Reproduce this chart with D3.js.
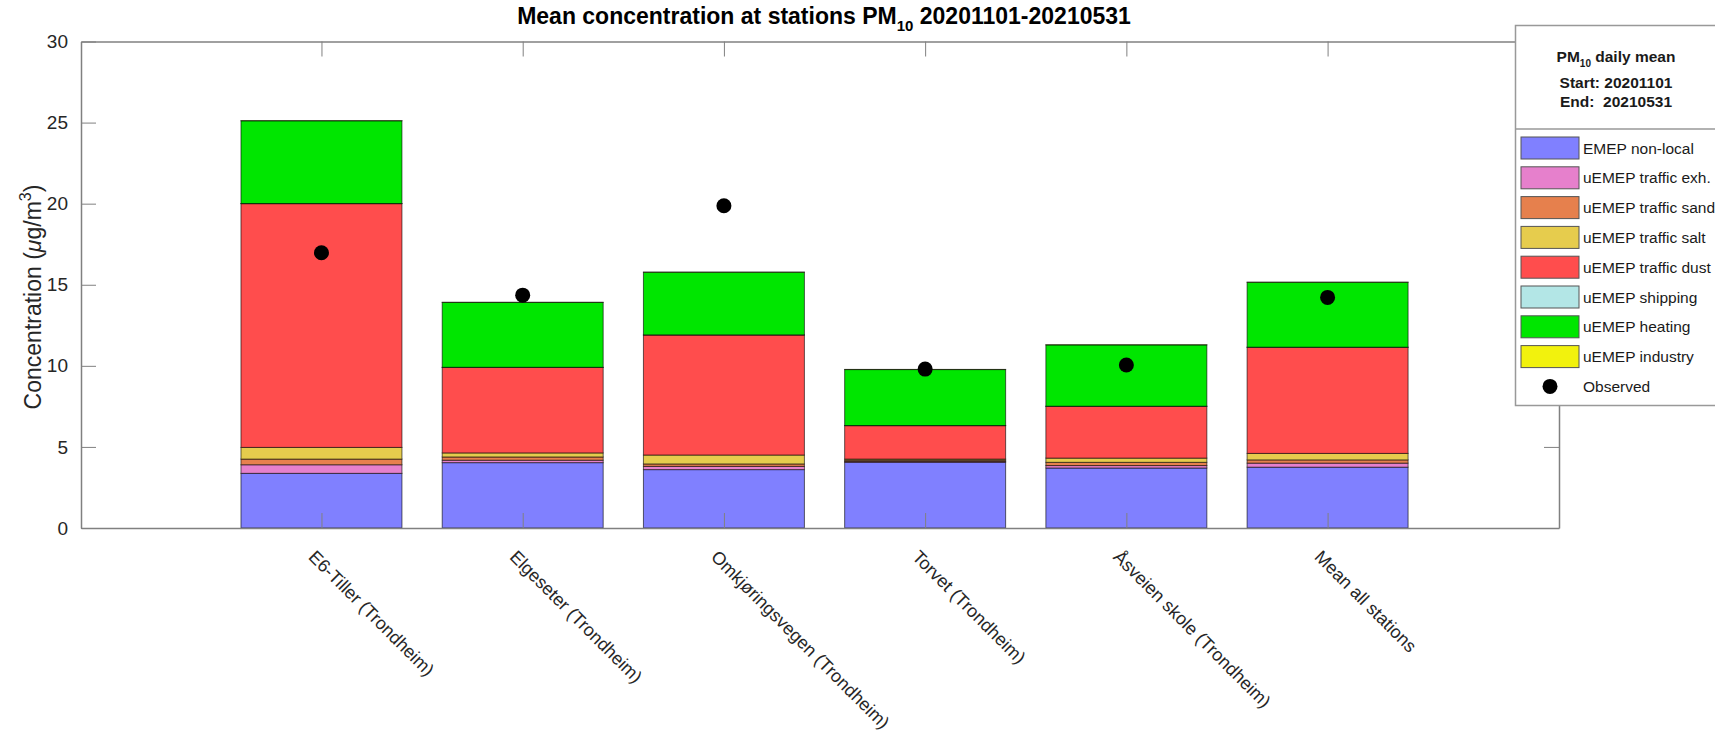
<html>
<script src='https://d3js.org/d3.v7.min.js'></script>
<style>
body {margin: 0; background: #fff;}
text {font-family: "Liberation Sans", Arial, sans-serif;}
.axis path, .axis line {stroke: #808080;}
.axis text {fill: #262626; font-size: 19px;}
.leg text {fill: #1a1a1a; font-size: 15.5px;}
</style>
<body>
<svg width=1715 height=736></svg>
<script>
// station names on the x axis
var stations = ["E6-Tiller (Trondheim)", "Elgeseter (Trondheim)", "Omkjøringsvegen (Trondheim)",
                "Torvet (Trondheim)", "Åsveien skole (Trondheim)", "Mean all stations"];
var sources = ["EMEP non-local", "uEMEP traffic exh.", "uEMEP traffic sand", "uEMEP traffic salt",
               "uEMEP traffic dust", "uEMEP shipping", "uEMEP heating", "uEMEP industry"];
var colors = ["#8080ff", "#e680cc", "#e6804d", "#e6cc4d", "#ff4d4d", "#b3e6e6", "#00e600", "#f2f20d"];

// contributions (ug/m3)
var emepNonLocal = [3.37, 4.03, 3.60, 4.05, 3.70, 3.75];
var trafficExh   = [0.53, 0.15, 0.20, 0.05, 0.15, 0.25];
var trafficSand  = [0.35, 0.20, 0.15, 0.08, 0.20, 0.20];
var trafficSalt  = [0.72, 0.25, 0.55, 0.07, 0.26, 0.40];
var trafficDust  = [15.03, 5.27, 7.40, 2.06, 3.19, 6.54];
var shipping     = [0.01, 0.01, 0.01, 0.01, 0.01, 0.01];
var heating      = [5.10, 4.00, 3.86, 3.45, 3.78, 4.00];
var industry     = [0.01, 0.01, 0.01, 0.01, 0.01, 0.01];
var observed     = [16.97, 14.36, 19.87, 9.80, 10.05, 14.22];
var yTicks = [0, 5, 10, 15, 20, 25, 30];

function draw() {
var series = [emepNonLocal, trafficExh, trafficSand, trafficSalt, trafficDust, shipping, heating, industry];
var rows = stations.map(function(s, i) {
    var r = {idx: i};
    sources.forEach(function(k, j) { r[k] = series[j][i]; });
    return r;
});

var mLeft = 81, mRight = 1559, mTop = 41.5, mBottom = 528;
var svg = d3.select("svg");

var x = d3.scaleLinear().domain([-1.195, 6.15]).range([mLeft, mRight]);
var y = d3.scaleLinear().domain([0, 30]).range([mBottom, mTop]);
var barW = (x(1) - x(0)) * 0.8;

var stacked = d3.stack().keys(sources)(rows);

var layer = svg.append("g").selectAll("g")
    .data(stacked).enter().append("g")
    .attr("fill", function(d, i) { return colors[i]; });

layer.selectAll("rect")
    .data(function(d) { return d; })
    .enter().append("rect")
    .attr("x", function(d) { return x(d.data.idx) - barW / 2; })
    .attr("width", barW)
    .attr("y", function(d) { return y(d[1]); })
    .attr("height", function(d) { return y(d[0]) - y(d[1]); })
    .attr("stroke", "#000")
    .attr("stroke-opacity", 0.6)
    .attr("stroke-width", 1);

// axes (box style, ticks inside)
var tl = 15;
svg.append("g").attr("class", "axis")
    .attr("transform", "translate(" + mLeft + ",0)")
    .call(d3.axisLeft(y).tickValues(yTicks).tickSize(-tl).tickPadding(13).tickSizeOuter(0));
svg.append("g").attr("class", "axis")
    .attr("transform", "translate(" + mRight + ",0)")
    .call(d3.axisRight(y).tickValues(yTicks).tickSize(-tl).tickFormat("").tickSizeOuter(0));
svg.append("g").attr("class", "axis")
    .attr("transform", "translate(0," + mBottom + ")")
    .call(d3.axisBottom(x).tickValues(d3.range(stations.length)).tickSize(-tl).tickFormat("").tickSizeOuter(0));
svg.append("g").attr("class", "axis")
    .attr("transform", "translate(0," + mTop + ")")
    .call(d3.axisTop(x).tickValues(d3.range(stations.length)).tickSize(-tl).tickFormat("").tickSizeOuter(0));
svg.selectAll(".axis .domain").attr("stroke-width", 1.5);

// rotated station labels
svg.append("g").selectAll("text")
    .data(stations).enter().append("text")
    .attr("transform", function(d, i) { return "translate(" + (x(i) - 14) + "," + (mBottom + 30) + ") rotate(45)"; })
    .attr("font-size", 18)
    .attr("fill", "#262626")
    .text(function(d) { return d; });

// observed
svg.append("g").selectAll("circle")
    .data(observed).enter().append("circle")
    .attr("cx", function(d, i) { return x(i); })
    .attr("cy", function(d) { return y(d); })
    .attr("r", 7.5)
    .attr("fill", "#000");

// title
var title = svg.append("text")
    .attr("x", 824)
    .attr("y", 24)
    .attr("text-anchor", "middle")
    .attr("font-size", 23)
    .attr("font-weight", "bold")
    .attr("fill", "#000");
title.append("tspan").text("Mean concentration at stations PM");
title.append("tspan").attr("font-size", 15).attr("dy", 7).text("10");
title.append("tspan").attr("dy", -7).text(" 20201101-20210531");

// y label
var yl = svg.append("text")
    .attr("transform", "translate(41,297) rotate(-90)")
    .attr("text-anchor", "middle")
    .attr("font-size", 23)
    .attr("fill", "#262626");
yl.append("tspan").text("Concentration (");
yl.append("tspan").attr("font-style", "italic").text("μ");
yl.append("tspan").text("g/m");
yl.append("tspan").attr("font-size", 16).attr("dy", -10).text("3");
yl.append("tspan").attr("dy", 10).text(")");

// legend
var leg = svg.append("g").attr("class", "leg");
leg.append("rect").attr("x", 1515.5).attr("y", 25.5).attr("width", 240).attr("height", 380)
    .attr("fill", "#fff").attr("stroke", "#999").attr("stroke-width", 1.5);
leg.append("line").attr("x1", 1515.5).attr("x2", 1715).attr("y1", 129).attr("y2", 129)
    .attr("stroke", "#999").attr("stroke-width", 1.5);
var head = leg.append("text").attr("x", 1616).attr("y", 62).attr("text-anchor", "middle")
    .attr("font-weight", "bold").attr("font-size", 14.5);
head.append("tspan").text("PM");
head.append("tspan").attr("font-size", 10).attr("dy", 5).text("10");
head.append("tspan").attr("dy", -5).text(" daily mean");
leg.append("text").attr("x", 1616).attr("y", 88).attr("text-anchor", "middle")
    .attr("font-weight", "bold").attr("font-size", 14.5).text("Start: 20201101");
leg.append("text").attr("x", 1616).attr("y", 107).attr("text-anchor", "middle")
    .attr("font-weight", "bold").attr("font-size", 14.5).attr("xml:space", "preserve").text("End:  20210531");

var ent = leg.selectAll(".ent").data(sources).enter().append("g")
    .attr("transform", function(d, i) { return "translate(0," + (148 + i * 29.8) + ")"; });
ent.append("rect").attr("x", 1521).attr("y", -11).attr("width", 58).attr("height", 22)
    .attr("fill", function(d, i) { return colors[i]; })
    .attr("stroke", "#555").attr("stroke-width", 1);
ent.append("text").attr("x", 1583).attr("y", 5.5).text(function(d) { return d; });
var obsY = 148 + sources.length * 29.8;
leg.append("circle").attr("cx", 1550).attr("cy", obsY).attr("r", 7.5).attr("fill", "#000");
leg.append("text").attr("x", 1583).attr("y", obsY + 5.5).text("Observed");
}
draw();
</script>
</body>
</html>
